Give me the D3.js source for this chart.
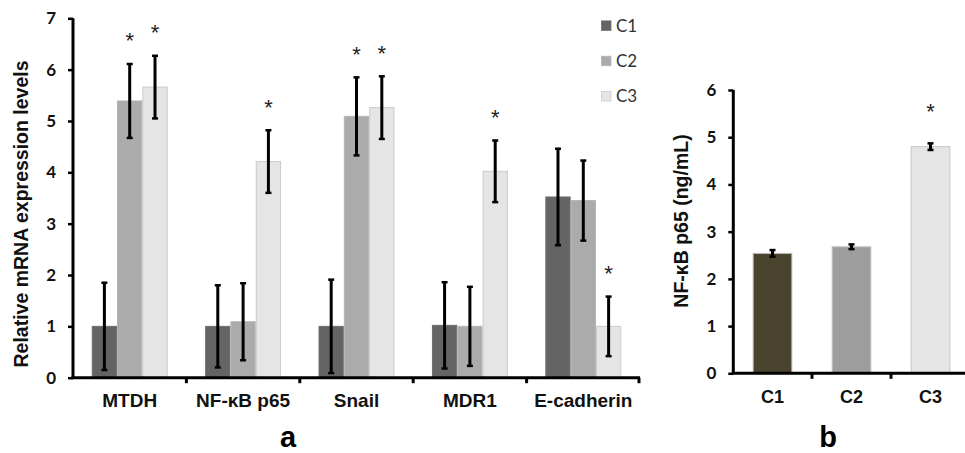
<!doctype html>
<html lang="en">
  <head>
    <meta charset="UTF-8" />
    <title>MTDH / NF-κB expression</title>
    <style>
      body { margin: 0; background: #fff; }
      svg { display: block; }
      .tick-num { font-family: Lato, "Open Sans", sans-serif; font-weight: bold; font-size: 17px; fill: #111; }
      .cat { font-family: "Liberation Sans", Arial, sans-serif; font-weight: bold; font-size: 19px; fill: #111; }
      .ttl { font-family: "Liberation Sans", Arial, sans-serif; font-weight: bold; font-size: 19.5px; fill: #111; }
      .star { font-family: "Liberation Sans", Arial, sans-serif; font-size: 22px; fill: #222; }
      .legend { font-family: Lato, "Open Sans", sans-serif; font-size: 17px; fill: #333; }
    </style>
  </head>
  <body>
    <svg id="chart" width="965" height="453"></svg>
    <script src="https://cdn.jsdelivr.net/npm/d3@7"></script>
    <script>
      // panel a: relative mRNA levels
      const genes = ["MTDH", "NF-κB p65", "Snail", "MDR1", "E-cadherin"];
      const groups = ["C1", "C2", "C3"];
      const c1Values = [1.0, 1.0, 1.0, 1.02, 3.52];
      const c2Values = [5.39, 1.09, 5.09, 1.0, 3.45];
      const c3Values = [5.66, 4.21, 5.26, 4.02, 1.0];
      const c1Err = [0.85, 0.8, 0.91, 0.84, 0.94];
      const c2Err = [0.72, 0.75, 0.76, 0.77, 0.78];
      const c3Err = [0.61, 0.61, 0.61, 0.6, 0.58];
      const c1Star = [false, false, false, false, false];
      const c2Star = [true, false, true, false, false];
      const c3Star = [true, true, true, true, true];
      const yTicksA = [0, 1, 2, 3, 4, 5, 6, 7];

      // panel b: NF-κB p65 protein
      const groupsB = ["C1", "C2", "C3"];
      const valuesB = [2.54, 2.68, 4.8];
      const errB = [0.07, 0.05, 0.07];
      const starB = [false, false, true];
      const yTicksB = [0, 1, 2, 3, 4, 5, 6];

      const colorA = { C1: "#646464", C2: "#ababab", C3: "#e5e5e5" };
      const strokeA = { C1: "#6e6e6e", C2: "#b4b4b4", C3: "#cbcbcb" };
      const colorB = ["#4a442e", "#9d9d9d", "#e5e5e5"];
      const strokeB = ["#bdbdbd", "#c4c4c4", "#c6c6c6"];

      const svg = d3.select("#chart");

      const series = [
        { key: "C1", vals: c1Values, err: c1Err, star: c1Star },
        { key: "C2", vals: c2Values, err: c2Err, star: c2Star },
        { key: "C3", vals: c3Values, err: c3Err, star: c3Star }
      ];

      const drawErr = (g, x, lo, hi, cap) => {
        g.append("line").attr("x1", x).attr("x2", x).attr("y1", lo).attr("y2", hi)
          .attr("stroke", "#000").attr("stroke-width", 3);
        [lo, hi].forEach(yy => {
          g.append("line").attr("x1", x - cap).attr("x2", x + cap).attr("y1", yy).attr("y2", yy)
            .attr("stroke", "#000").attr("stroke-width", 2.5);
        });
      };

      const star = (g, x, cy) => {
        g.append("text").attr("class", "star").attr("x", x).attr("y", cy + 12.5)
          .attr("text-anchor", "middle").text("*");
      };

      // ---------- panel a ----------
      const xA = d3.scaleBand().domain(genes).range([73, 640]).padding(0);
      const xS = d3.scaleBand().domain(groups).range([0, xA.bandwidth()]).paddingInner(0).paddingOuter(0.74);
      const yA = d3.scaleLinear().domain([0, 7]).range([377.7, 18.3]);
      const gA = svg.append("g");

      series.forEach(s => {
        genes.forEach((gene, i) => {
          const x0 = xA(gene) + xS(s.key);
          gA.append("rect")
            .attr("x", x0 + 0.5).attr("y", yA(s.vals[i]))
            .attr("width", xS.bandwidth() - 1).attr("height", yA(0) - yA(s.vals[i]))
            .attr("fill", colorA[s.key]).attr("stroke", strokeA[s.key]).attr("stroke-width", 1);
        });
      });
      series.forEach(s => {
        genes.forEach((gene, i) => {
          const cx = xA(gene) + xS(s.key) + xS.bandwidth() / 2;
          const hi = yA(s.vals[i] + s.err[i]);
          drawErr(gA, cx, yA(s.vals[i] - s.err[i]), hi, 3);
          if (s.star[i]) star(gA, cx, hi - 28);
        });
      });

      const yAxisA = gA.append("g").attr("transform", "translate(73,0)")
        .call(d3.axisLeft(yA).tickValues(yTicksA).tickSize(5).tickPadding(12).tickFormat(d3.format("d")));
      yAxisA.select(".domain").attr("stroke", "#000").attr("stroke-width", 3).attr("d", `M0,${yA(7)}V${yA(0)}`);
      yAxisA.selectAll(".tick line").attr("stroke", "#000").attr("stroke-width", 2.5);
      yAxisA.selectAll(".tick text").attr("class", "tick-num").attr("font-size", null).attr("font-family", null);

      gA.append("line").attr("x1", 71.5).attr("x2", 640).attr("y1", yA(0)).attr("y2", yA(0))
        .attr("stroke", "#000").attr("stroke-width", 3);
      genes.slice(1).concat(["end"]).forEach(gene => {
        const tx = gene === "end" ? 640 - 1 : xA(gene);
        gA.append("line").attr("x1", tx).attr("x2", tx).attr("y1", yA(0)).attr("y2", yA(0) + 5.5)
          .attr("stroke", "#000").attr("stroke-width", 3);
      });
      genes.forEach(gene => {
        gA.append("text").attr("class", "cat").attr("x", xA(gene) + xA.bandwidth() / 2).attr("y", 407)
          .attr("text-anchor", "middle").text(gene);
      });

      gA.append("text").attr("class", "ttl")
        .attr("transform", "translate(28,214) rotate(-90)")
        .attr("text-anchor", "middle").text("Relative mRNA expression levels");
      gA.append("text").attr("x", 288).attr("y", 447).attr("text-anchor", "middle")
        .style("font", "bold 29px 'Liberation Sans', Arial, sans-serif").text("a");

      // legend
      const leg = gA.append("g");
      groups.forEach((k, i) => {
        const ly = 25.7 + i * 35.3;
        leg.append("rect").attr("x", 601.5).attr("y", ly - 4.8).attr("width", 9.5).attr("height", 9.5)
          .attr("fill", colorA[k]).attr("stroke", strokeA[k]).attr("stroke-width", 0.8);
        leg.append("text").attr("class", "legend").attr("x", 616).attr("y", ly + 6).text(k);
      });

      // ---------- panel b ----------
      const xB = d3.scaleBand().domain(groupsB).range([733, 970]).padding(0);
      const yB = d3.scaleLinear().domain([0, 6]).range([373.3, 90]);
      const gB = svg.append("g");
      const barW = xB.bandwidth() * 0.49;

      groupsB.forEach((k, i) => {
        const cx = xB(k) + xB.bandwidth() / 2;
        gB.append("rect").attr("x", cx - barW / 2).attr("y", yB(valuesB[i]))
          .attr("width", barW).attr("height", yB(0) - yB(valuesB[i]))
          .attr("fill", colorB[i]).attr("stroke", strokeB[i]).attr("stroke-width", 1);
        const hi = yB(valuesB[i] + errB[i]);
        drawErr(gB, cx, yB(valuesB[i] - errB[i]), hi, 3);
        if (starB[i]) star(gB, cx, hi - 37);
        gB.append("text").attr("class", "cat").style("font-size", "18px")
          .attr("x", cx).attr("y", 403.3).attr("text-anchor", "middle").text(k);
      });

      const yAxisB = gB.append("g").attr("transform", "translate(733.3,0)")
        .call(d3.axisLeft(yB).tickValues(yTicksB).tickSize(5).tickPadding(12).tickFormat(d3.format("d")));
      yAxisB.select(".domain").attr("stroke", "#000").attr("stroke-width", 3).attr("d", `M0,${yB(6)}V${yB(0)}`);
      yAxisB.selectAll(".tick line").attr("stroke", "#000").attr("stroke-width", 2.5);
      yAxisB.selectAll(".tick text").attr("class", "tick-num").attr("font-size", null).attr("font-family", null);

      gB.append("line").attr("x1", 731.8).attr("x2", 965).attr("y1", yB(0)).attr("y2", yB(0))
        .attr("stroke", "#000").attr("stroke-width", 3);
      groupsB.slice(1).forEach(k => {
        gB.append("line").attr("x1", xB(k)).attr("x2", xB(k)).attr("y1", yB(0)).attr("y2", yB(0) + 5.5)
          .attr("stroke", "#000").attr("stroke-width", 3);
      });

      gB.append("text").attr("class", "ttl")
        .attr("transform", "translate(688,221) rotate(-90)")
        .attr("text-anchor", "middle").text("NF-κB p65 (ng/mL)");
      gB.append("text").attr("x", 828).attr("y", 447).attr("text-anchor", "middle")
        .style("font", "bold 29px 'Liberation Sans', Arial, sans-serif").text("b");
    </script>
  </body>
</html>
